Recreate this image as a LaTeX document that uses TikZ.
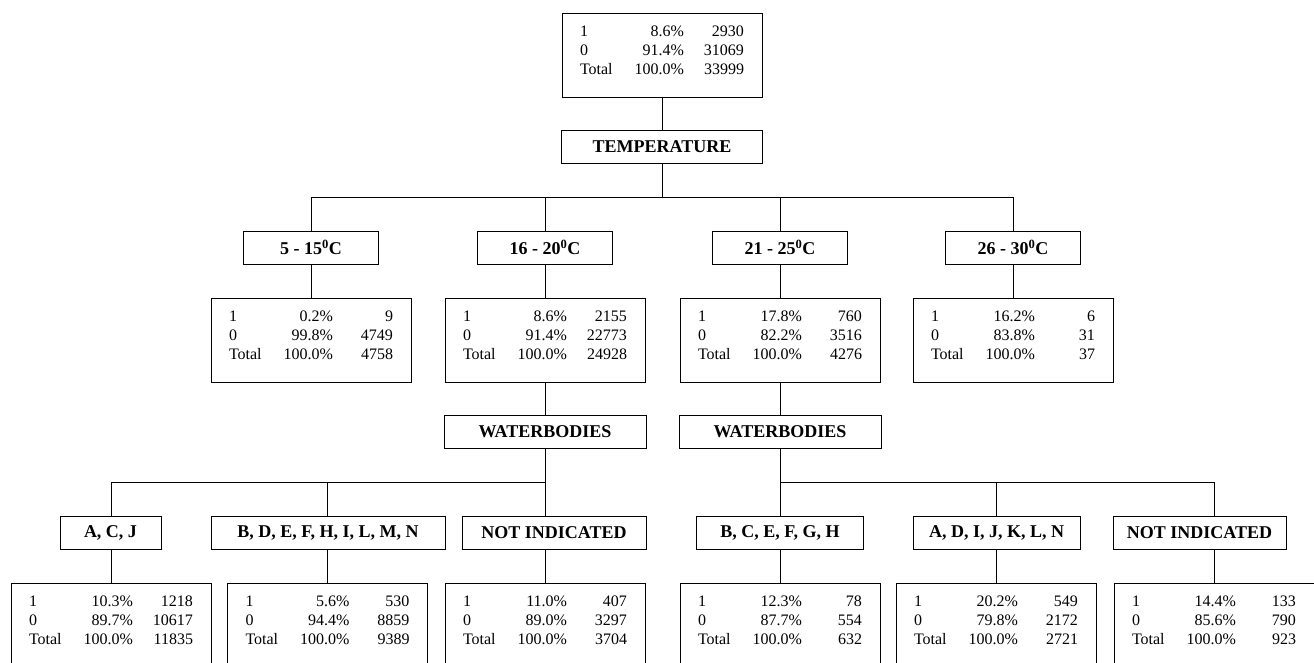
\documentclass[tikz,border=0pt]{standalone}
\usepackage{fontspec}
\setmainfont{Liberation Serif}

\newcommand{\statrows}[6]{%
  \parbox[c][68pt][t]{164pt}{\fontsize{16}{19}\selectfont
    \rule{0pt}{15pt}\makebox[44pt][l]{1}\makebox[60pt][r]{#1}\makebox[60pt][r]{#2}\\
    \makebox[44pt][l]{0}\makebox[60pt][r]{#3}\makebox[60pt][r]{#4}\\
    \makebox[44pt][l]{Total}\makebox[60pt][r]{#5}\makebox[60pt][r]{#6}}}
\newcommand{\degC}[1]{#1\textsuperscript{0}C}

\tikzset{
  stats/.style={draw, anchor=north, minimum width=200pt, minimum height=84pt,
    inner xsep=16pt, inner ysep=8pt},
  split/.style={draw, font=\fontsize{18}{20}\selectfont\bfseries,
    minimum height=33pt, inner sep=0pt},
}

\begin{document}
\begin{tikzpicture}[x=1pt, y=-1pt, line width=1pt]
        \clip (0, 0) rectangle (1314, 663);
        % root and first split
        \node [stats] (root) at (662, 13) {\statrows{8.6\%}{2930}{91.4\%}{31069}{100.0\%}{33999}};
        \node [split, minimum width=201pt] (temp) at (662, 147) {TEMPERATURE};
        \node [split, minimum width=135pt] (t1) at (311, 247.5) {\degC{5 - 15}};
        \node [split, minimum width=135pt] (t2) at (545, 247.5) {\degC{16 - 20}};
        \node [split, minimum width=135pt] (t3) at (780, 247.5) {\degC{21 - 25}};
        \node [split, minimum width=135pt] (t4) at (1013, 247.5) {\degC{26 - 30}};
        \node [stats] (s1) at (311, 298) {\statrows{0.2\%}{9}{99.8\%}{4749}{100.0\%}{4758}};
        \node [stats] (s2) at (545, 298) {\statrows{8.6\%}{2155}{91.4\%}{22773}{100.0\%}{24928}};
        \node [stats] (s3) at (780, 298) {\statrows{17.8\%}{760}{82.2\%}{3516}{100.0\%}{4276}};
        \node [stats] (s4) at (1013, 298) {\statrows{16.2\%}{6}{83.8\%}{31}{100.0\%}{37}};
        % second splits
        \node [split, minimum width=202pt] (wbl) at (545, 431.5) {WATERBODIES};
        \node [split, minimum width=202pt] (wbr) at (780, 431.5) {WATERBODIES};
        \node [split, minimum width=101pt] (la) at (110.5, 532.5) {A, C, J};
        \node [split, minimum width=234pt] (lb) at (328, 532.5) {B, D, E, F, H, I, L, M, N};
        \node [split, minimum width=184pt] (lc) at (554, 532.5) {NOT INDICATED};
        \node [split, minimum width=167pt] (ld) at (780, 532.5) {B, C, E, F, G, H};
        \node [split, minimum width=167pt] (le) at (996.5, 532.5) {A, D, I, J, K, L, N};
        \node [split, minimum width=173pt] (lf) at (1199.5, 532.5) {NOT INDICATED};
        \node [stats] (sa) at (111, 583) {\statrows{10.3\%}{1218}{89.7\%}{10617}{100.0\%}{11835}};
        \node [stats] (sb) at (327.5, 583) {\statrows{5.6\%}{530}{94.4\%}{8859}{100.0\%}{9389}};
        \node [stats] (sc) at (545, 583) {\statrows{11.0\%}{407}{89.0\%}{3297}{100.0\%}{3704}};
        \node [stats] (sd) at (780, 583) {\statrows{12.3\%}{78}{87.7\%}{554}{100.0\%}{632}};
        \node [stats] (se) at (996, 583) {\statrows{20.2\%}{549}{79.8\%}{2172}{100.0\%}{2721}};
        \node [stats] (sf) at (1214, 583) {\statrows{14.4\%}{133}{85.6\%}{790}{100.0\%}{923}};
        % connectors
        \draw (root) -- (temp);
        \draw (temp.south) -- ++(0, 34) coordinate (tj);
        \foreach \t/\s in {t1/s1, t2/s2, t3/s3, t4/s4} {
            \draw (tj) -| (\t.north);
            \draw (\t) -- (\s);
        }
        \draw (s2) -- (wbl);
        \draw (s3) -- (wbr);
        \draw (wbl.south) -- ++(0, 34) coordinate (wjl);
        \draw (wbr.south) -- ++(0, 34) coordinate (wjr);
        \foreach \l/\s in {la/sa, lb/sb, lc/sc} {
            \draw (wjl) -| (\l.north -| \s.north);
            \draw (\l.south -| \s.north) -- (\s.north);
        }
        \foreach \l/\s in {ld/sd, le/se, lf/sf} {
            \draw (wjr) -| (\l.north -| \s.north);
            \draw (\l.south -| \s.north) -- (\s.north);
        }
    \end{tikzpicture}
\end{document}
